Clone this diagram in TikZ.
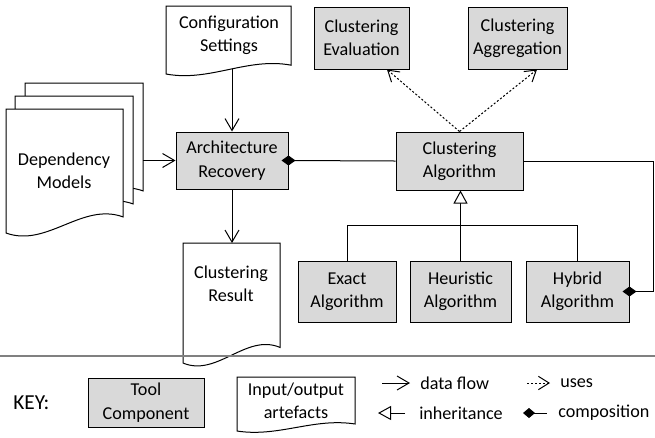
\documentclass[tikz,border=0pt]{standalone}
\usepackage{fontspec}
\setmainfont{Carlito}
\usetikzlibrary{arrows.meta,calc}
\definecolor{boxgray}{HTML}{D9D9D9}
\definecolor{sepgray}{HTML}{808080}
\tikzset{
  every node/.style={font=\fontsize{13.6}{17.5}\selectfont, align=center},
  tool/.style={draw, fill=boxgray, line width=0.75pt, inner sep=0pt},
  docshape/.style={draw, fill=white, line width=0.75pt},
  conn/.style={line width=0.75pt},
  flow/.style={conn, -{Straight Barb[length=9pt,width=10.5pt]}},
  uses/.style={conn, dash pattern=on 1.5pt off 1.5pt, -{Straight Barb[length=8pt,width=10pt]}},
  inherit/.style={conn, -{Triangle[fill=white,length=9.75pt,width=10.5pt]}},
  compo/.style={conn, {Diamond[length=10.5pt,width=7.5pt]}-, shorten <=-5.25pt},
  keycompo/.style={conn, {Diamond[length=9pt,width=7.5pt]}-},
  keytext/.style={anchor=west, inner sep=0pt},
}
\newcommand\toolnode[6]{\node[tool, minimum width={(#4-#2)*0.75pt}, minimum height={(#5-#3)*0.75pt}] (#1) at ({(#2+#4)/2},{(#3+#5)/2}) {#6};}
\newcommand\docdraw[4]{\draw[docshape] (#1,#2) -- (#3,#2) -- (#3,{#4-0.13*(#4-#2)}) .. controls ({#1+0.65*(#3-#1)},{#4-0.25*(#4-#2)}) and ({#1+0.35*(#3-#1)},{#4+0.12*(#4-#2)}) .. (#1,#4) -- cycle;}
\begin{document}
\begin{tikzpicture}[x=0.75pt, y=-0.75pt]
\useasboundingbox (0,0) rectangle (655,437);
% document shapes
\docdraw{25}{83}{143}{207}
\docdraw{15}{96}{133}{220}
\docdraw{6}{109}{123}{233}
\node (dm) at (64,171) {Dependency\\Models};
\docdraw{166}{6}{291}{74}
\node (cfg) at (229,35) {Configuration\\Settings};
\docdraw{183}{243}{280}{363}
\node (cr) at (231,284) {Clustering\\Result};
% tool components
\toolnode{AR}{176}{132}{288}{189}{Architecture\\Recovery}
\toolnode{CA}{396}{132}{523}{190}{Clustering\\Algorithm}
\toolnode{CE}{314}{7}{409}{69}{Clustering\\Evaluation}
\toolnode{CG}{468}{7}{567}{69}{Clustering\\Aggregation}
\toolnode{EX}{298}{261}{396}{322}{Exact\\Algorithm}
\toolnode{HE}{410}{261}{511}{322}{Heuristic\\Algorithm}
\toolnode{HY}{526}{261}{629}{322}{Hybrid\\Algorithm}
% connector end points
\coordinate (dmr) at (143,160.5);
\coordinate (cfgb) at (232,69);
\coordinate (crtop) at (232,243);
% connectors
\draw[flow] (dmr) -- (AR.west);
\draw[flow] (cfgb) -- (AR.north);
\draw[flow] (AR.south) -- (crtop);
\draw[compo] (AR.east) -- (CA.west);
\draw[uses] (CA.north) -- ($(CE.south)+(25.5,0)$);
\draw[uses] (CA.north) -- ($(CG.south)+(19.5,0)$);
\draw[inherit] (HE.north) -- (HE.north |- CA.south);
\draw[conn] (EX.north) -- ++(0,-35) -| (HY.north);
\draw[compo] (HY.east) -- ++(24,0) |- (CA.east);
% separator
\draw[sepgray, line width=1.5pt] (0,356) -- (655,356);
% key
\node[font=\fontsize{16}{19}\selectfont, anchor=west, inner sep=0pt] (key) at (13,403) {KEY:};
\toolnode{ktool}{88}{378}{204}{427}{Tool\\Component}
\docdraw{237}{377}{355}{431}
\node (kio) at (296,401) {Input/output\\artefacts};
\coordinate (kf1) at (382,383);
\coordinate (kf2) at (410,383);
\draw[flow] (kf1) -- (kf2);
\node[keytext] (kft) at (420,383) {data flow};
\coordinate (ku1) at (527,383);
\coordinate (ku2) at (550,383);
\draw[uses] (ku1) -- (ku2);
\node[keytext] (kut) at (560,383) {uses};
\coordinate (ki1) at (378,413);
\coordinate (ki2) at (405,413);
\draw[inherit] (ki2) -- (ki1);
\node[keytext] (kit) at (419,413) {inheritance};
\coordinate (kc1) at (523,413);
\coordinate (kc2) at (547,413);
\draw[keycompo] (kc1) -- (kc2);
\node[keytext] (kct) at (558,413) {composition};
\end{tikzpicture}
\end{document}
